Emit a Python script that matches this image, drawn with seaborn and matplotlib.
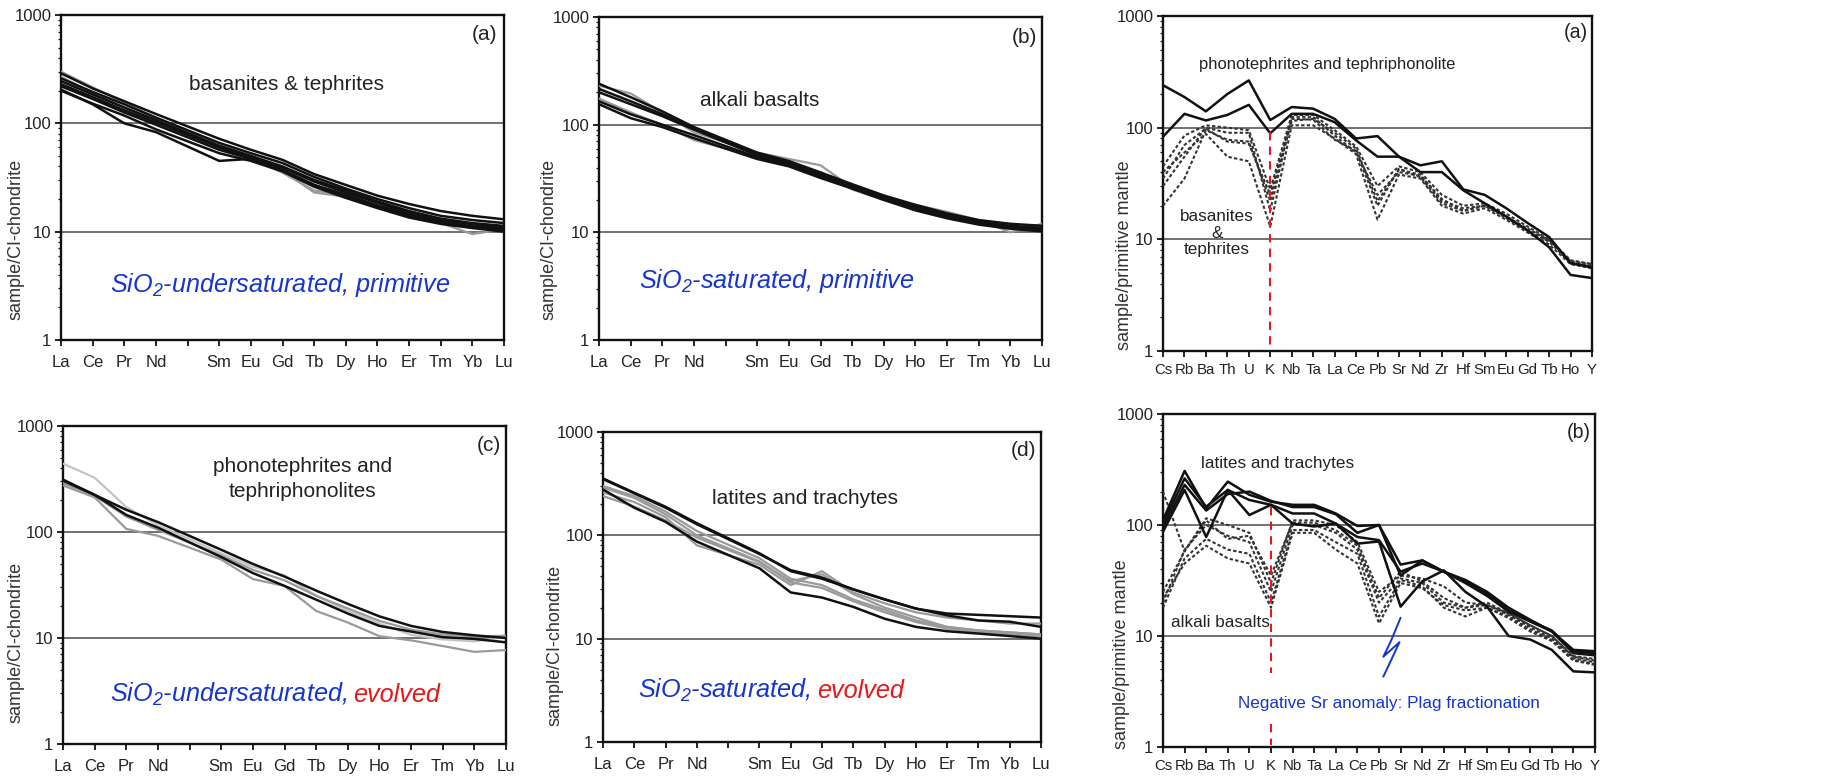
import pandas as pd
import matplotlib
matplotlib.use("Agg")
import matplotlib.pyplot as plt
from matplotlib import font_manager
from matplotlib.ticker import LogLocator, NullFormatter, FixedLocator, FixedFormatter
import seaborn as sns

# ---- element order ----
ree = ['La', 'Ce', 'Pr', 'Nd', 'Pm', 'Sm', 'Eu', 'Gd', 'Tb', 'Dy', 'Ho', 'Er', 'Tm', 'Yb', 'Lu']
ree_measured = ['La', 'Ce', 'Pr', 'Nd', 'Sm', 'Eu', 'Gd', 'Tb', 'Dy', 'Ho', 'Er', 'Tm', 'Yb', 'Lu']
ree_ticklabels = ['La', 'Ce', 'Pr', 'Nd', '', 'Sm', 'Eu', 'Gd', 'Tb', 'Dy', 'Ho', 'Er', 'Tm', 'Yb', 'Lu']
spider = ['Cs', 'Rb', 'Ba', 'Th', 'U', 'K', 'Nb', 'Ta', 'La', 'Ce', 'Pb', 'Sr', 'Nd', 'Zr',
          'Hf', 'Sm', 'Eu', 'Gd', 'Tb', 'Ho', 'Y']

# ---- REE patterns (sample / CI chondrite) ----
a_black = [
    [290, 210, 160, 122, 72, 57, 46, 34, 27, 21.5, 18, 15.5, 14, 13],
    [260, 195, 150, 113, 66, 53, 43, 32, 25, 20, 16.5, 14, 12.8, 12],
    [245, 185, 140, 107, 62, 50, 40, 30, 24, 19, 15.5, 13.2, 12, 11.3],
    [230, 175, 132, 102, 60, 48, 39, 29, 23, 18.5, 15, 12.8, 11.7, 11],
    [220, 168, 126, 97, 57, 47, 37, 27, 22, 17.5, 14.5, 12.3, 11.2, 10.6],
    [205, 150, 100, 83, 45, 47, 37, 27, 21, 17, 14, 12, 11, 10.2],
    [200, 152, 118, 88, 53, 45, 36, 26, 20.5, 16.5, 13.5, 11.8, 10.8, 10],
]
a_grey = [
    [300, 215, 155, 112, 63, 50, 37, 23, 21, 17, 14, 12, 9.5, 10.5],
    [270, 190, 140, 105, 60, 48, 35, 24, 21.5, 17.5, 14.5, 12.2, 11, 11],
]
b_black = [
    [240, 180, 133, 95, 55, 46, 36, 28, 22, 18, 15, 13, 12, 11.5],
    [215, 165, 125, 92, 54, 45, 35, 27, 21.5, 17.5, 14.5, 12.5, 11.5, 11],
    [200, 155, 120, 90, 52, 44, 34, 26.5, 21, 17, 14, 12.3, 11.3, 10.8],
    [165, 125, 100, 80, 50, 42, 33, 26, 20.5, 16.5, 14, 12, 11, 10.5],
    [155, 115, 95, 75, 48, 41, 32, 25.5, 20, 16, 13.5, 11.8, 10.8, 10.2],
]
b_grey = [
    [230, 195, 130, 85, 55, 48, 42, 26, 21, 18, 15.5, 13, 10, 12],
    [175, 130, 100, 72, 50, 44, 36, 25, 20, 17, 14.5, 12.5, 11, 11],
]
c_black = [
    [312, 224, 162, 124, 68, 50, 38, 28, 21, 16, 13, 11.4, 10.6, 10],
    [305, 224, 145, 110, 58, 41, 31, 23, 17, 13, 11.5, 10.2, 9.8, 9.1],
]
c_grey = [
    [275, 212, 107, 92, 55, 36, 31, 18, 14, 10.4, 9.5, 8.4, 7.4, 7.7],
    [290, 220, 140, 105, 60, 44, 35, 25, 19, 14.5, 12, 10.8, 10.3, 10.5],
]
c_light = [
    [442, 325, 172, 116, 63, 47, 39, 25, 18, 13.7, 10.7, 9.7, 9.3, 10.2],
]
d_black = [
    [355, 258, 189, 131, 67, 45, 38, 30, 24, 19.6, 16.8, 15, 14.6, 13],
    [350, 255, 185, 128, 66, 46, 39, 30, 24, 19.5, 17.5, 17, 16.5, 16],
    [278, 185, 135, 87, 48, 28, 25, 20.3, 15.6, 13, 11.8, 11.2, 10.6, 10],
]
d_grey = [
    [300, 240, 170, 110, 60, 38, 33, 24, 19, 15, 13, 12, 11.5, 11],
    [290, 230, 160, 100, 56, 35, 31, 23, 18, 14.5, 12.5, 11.5, 11, 10.5],
    [260, 210, 150, 80, 52, 33, 45, 28, 22, 18, 16, 15, 14, 14],
    [240, 190, 140, 95, 55, 36, 42, 27, 20, 16, 13, 12, 11.5, 11],
]

# ---- spider patterns (sample / primitive mantle) ----
pa_solid = [
    [240, 188, 140, 200, 265, 117, 153, 148, 120, 80, 84, 55, 46, 50, 28, 25, 19, 14, 10.5, 6.1, 5.6],
    [83, 133, 116, 130, 160, 89, 133, 133, 112, 77, 55, 55, 40, 40, 27.5, 21, 16, 12, 8.5, 4.8, 4.5],
]
pa_dotted = [
    [45, 85, 105, 100, 95, 28, 130, 130, 95, 68, 30, 45, 40, 25, 20, 21, 17, 13, 10, 6.5, 6],
    [20, 35, 95, 78, 75, 22, 115, 120, 90, 65, 22, 42, 38, 22, 19, 20, 16, 12.5, 9.8, 6.3, 5.8],
    [30, 55, 100, 90, 90, 18, 125, 125, 85, 60, 25, 40, 37, 23, 18, 20, 15.5, 12, 9.5, 6.2, 5.7],
    [40, 60, 88, 55, 50, 13, 105, 105, 80, 58, 15, 38, 35, 20, 17, 19, 15, 11.5, 9, 6, 5.5],
    [35, 70, 98, 75, 72, 25, 120, 118, 78, 62, 20, 43, 36, 21, 18, 20, 16, 12, 9.7, 6.4, 6],
]
pb_solid = [
    [111, 307, 141, 246, 187, 162, 152, 152, 127, 98, 100, 44, 48, 38, 31, 24, 17, 13.7, 11.2, 7.3, 7],
    [103, 263, 146, 207, 168, 152, 127, 127, 103, 78, 73, 38, 45, 38, 30, 23, 16.6, 13.5, 11, 7, 6.7],
    [87, 207, 78, 207, 123, 152, 103, 97, 103, 68, 71, 18.4, 31, 39, 25, 18.4, 10, 9.3, 7.5, 4.8, 4.7],
    [95, 230, 135, 190, 200, 165, 145, 145, 125, 85, 100, 35, 48, 38, 32, 25, 18, 14, 11, 7.5, 7.3],
]
pb_dotted = [
    [200, 58, 115, 100, 85, 30, 110, 110, 100, 70, 25, 35, 33, 28, 20, 19, 16, 12.5, 10, 6.5, 6],
    [20, 60, 100, 80, 70, 25, 100, 100, 85, 60, 20, 33, 30, 20, 18, 19, 15.5, 12, 9.5, 6.3, 5.8],
    [18, 50, 75, 60, 55, 20, 90, 90, 70, 55, 15, 32, 28, 18, 15, 18, 15, 11.5, 9.2, 6.1, 5.6],
    [22, 45, 65, 50, 45, 18, 85, 85, 60, 45, 13, 30, 27, 19, 17, 18, 14.5, 11, 9, 6, 5.5],
    [25, 58, 110, 75, 80, 35, 105, 105, 90, 65, 22, 38, 31, 22, 18, 20, 16, 12.5, 10, 6.6, 6.2],
]

# blue "lightning" mark near Sr (element index, value)
squiggle_x = [11.0, 10.55, 10.2, 10.95, 10.55, 10.2]
squiggle_y = [14.6, 9.0, 6.5, 8.8, 6.0, 4.3]

BLUE = '#1534d0'
RED = '#e81818'
TXT = '#222222'

sns.set_style('white')
plt.rcParams['font.family'] = ['Liberation Sans', 'DejaVu Sans']
plt.rcParams['mathtext.fontset'] = 'custom'
plt.rcParams['mathtext.rm'] = 'Liberation Sans:italic'
plt.rcParams['mathtext.it'] = 'Liberation Sans:italic'

names = {f.name for f in font_manager.fontManager.ttflist}
HAS_NARROW = 'Liberation Sans Narrow' in names
NARROW = ['Liberation Sans Narrow', 'Liberation Sans'] if HAS_NARROW else ['Liberation Sans']
nf = 1.0 if HAS_NARROW else 0.88
tick_narrow = 13 if HAS_NARROW else 10.8

palette = {'grey': '#9a9a9a', 'light': '#c4c4c4', 'black': '#111111', 'dotted': '#333333'}
sizes = {'grey': 1.6, 'light': 1.6, 'black': 1.8, 'dotted': 1.5}
dashes = {'grey': '', 'light': '', 'black': '', 'dotted': (1.6, 1.1)}


def to_long(groups, elements, order):
    rows = []
    for kind, samples in groups.items():
        for i, vals in enumerate(samples):
            for el, v in zip(elements, vals):
                rows.append({'x': order.index(el), 'value': v,
                             'sample': f'{kind}{i}', 'kind': kind})
    return pd.DataFrame(rows)


def draw(ax, groups, elements, order, ticklabels, narrow=False):
    df = to_long(groups, elements, order)
    kinds = [k for k in ['light', 'grey', 'dotted', 'black'] if k in groups]
    sns.lineplot(data=df, x='x', y='value', hue='kind', hue_order=kinds,
                 size='kind', sizes=sizes, style='kind', dashes=dashes,
                 units='sample', estimator=None, palette=palette,
                 legend=False, ax=ax, zorder=3)
    ax.set_yscale('log')
    ax.set_ylim(1, 1000)
    ax.set_xlim(0, len(order) - 1)
    for v in (10, 100):
        ax.axhline(v, color='#4a4a4a', lw=1.1, zorder=2)
    ax.xaxis.set_major_locator(FixedLocator(range(len(order))))
    ax.xaxis.set_major_formatter(FixedFormatter(ticklabels))
    ax.yaxis.set_major_locator(FixedLocator([1, 10, 100, 1000]))
    ax.yaxis.set_major_formatter(FixedFormatter(['1', '10', '100', '1000']))
    ax.yaxis.set_minor_locator(LogLocator(base=10, subs=range(2, 10)))
    ax.yaxis.set_minor_formatter(NullFormatter())
    ax.tick_params(axis='both', which='major', direction='out', length=4, width=1.3,
                   color='#111111', labelcolor=TXT, left=True, bottom=True)
    ax.tick_params(axis='y', which='minor', direction='out', length=2.5, width=0.9,
                   left=True, color='#111111')
    ax.tick_params(axis='x', pad=7 if not narrow else 5)
    ax.tick_params(axis='y', pad=3)
    for lab in ax.get_xticklabels():
        lab.set_family(NARROW if narrow else ['Liberation Sans'])
        lab.set_fontsize(tick_narrow if narrow else 12)
    for lab in ax.get_yticklabels():
        lab.set_fontsize(12)
    for s in ax.spines.values():
        s.set_visible(True)
        s.set_color('#111111')
        s.set_linewidth(1.7)
    ax.set_xlabel('')


def sio2_text(fig, ax, x, y, rest, red=None):
    t = ax.text(x, y, 'SiO$_2$-' + rest, color=BLUE, style='italic', fontsize=18.2,
                ha='left', va='baseline', transform=ax.transAxes, zorder=5)
    if red:
        fig.canvas.draw()
        bb = t.get_window_extent()
        x1 = ax.transAxes.inverted().transform((bb.x1 + 6, bb.y0))[0]
        ax.text(x1, y, red, color=RED, style='italic', fontsize=18.2,
                ha='left', va='baseline', transform=ax.transAxes, zorder=5)


fig = plt.figure(figsize=(18.27, 7.79), dpi=100)

ax_a = fig.add_axes([61 / 1827, 1 - 340 / 779, 443 / 1827, 325 / 779])
ax_b = fig.add_axes([599 / 1827, 1 - 340 / 779, 443 / 1827, 323 / 779])
ax_c = fig.add_axes([63 / 1827, 1 - 744 / 779, 443 / 1827, 318 / 779])
ax_d = fig.add_axes([603 / 1827, 1 - 742 / 779, 438 / 1827, 310 / 779])
ax_pa = fig.add_axes([1163 / 1827, 1 - 351 / 779, 429 / 1827, 335 / 779])
ax_pb = fig.add_axes([1163 / 1827, 1 - 747 / 779, 432 / 1827, 333 / 779])

draw(ax_a, {'grey': a_grey, 'black': a_black}, ree_measured, ree, ree_ticklabels)
draw(ax_b, {'grey': b_grey, 'black': b_black}, ree_measured, ree, ree_ticklabels)
draw(ax_c, {'light': c_light, 'grey': c_grey, 'black': c_black}, ree_measured, ree, ree_ticklabels)
draw(ax_d, {'grey': d_grey, 'black': d_black}, ree_measured, ree, ree_ticklabels)
draw(ax_pa, {'dotted': pa_dotted, 'black': pa_solid}, spider, spider, spider, narrow=True)
draw(ax_pb, {'dotted': pb_dotted, 'black': pb_solid}, spider, spider, spider, narrow=True)

# y labels
for ax, lab, xy in [
    (ax_a, 'sample/CI-chondrite', (-0.083, 0.31)),
    (ax_b, 'sample/CI-chondrite', (-0.093, 0.31)),
    (ax_c, 'sample/CI-chondrite', (-0.086, 0.32)),
    (ax_d, 'sample/CI-chondrite', (-0.091, 0.31)),
    (ax_pa, 'sample/primitive mantle', (-0.07, 0.287)),
    (ax_pb, 'sample/primitive mantle', (-0.076, 0.28)),
]:
    ax.set_ylabel(lab, fontsize=13, color='#333333')
    ax.yaxis.set_label_coords(*xy)

# panel letters
for ax, lab, x, y, narrow in [
    (ax_a, '(a)', 0.985, 0.94, False), (ax_b, '(b)', 0.988, 0.935, False),
    (ax_c, '(c)', 0.988, 0.94, False), (ax_d, '(d)', 0.99, 0.94, False),
    (ax_pa, '(a)', 0.99, 0.95, True), (ax_pb, '(b)', 0.99, 0.943, True),
]:
    ax.text(x, y, lab, transform=ax.transAxes, ha='right', va='center', color=TXT,
            fontsize=(16 * nf if narrow else 15), family=NARROW if narrow else ['Liberation Sans'])

# group names
ax_a.text(0.51, 0.785, 'basanites & tephrites', transform=ax_a.transAxes, ha='center',
          va='center', fontsize=15, color=TXT)
ax_b.text(0.363, 0.743, 'alkali basalts', transform=ax_b.transAxes, ha='center',
          va='center', fontsize=15, color=TXT)
ax_c.text(0.54, 0.833, 'phonotephrites and\ntephriphonolites', transform=ax_c.transAxes,
          ha='center', va='center', fontsize=15, color=TXT, linespacing=1.35)
ax_d.text(0.461, 0.787, 'latites and trachytes', transform=ax_d.transAxes, ha='center',
          va='center', fontsize=15, color=TXT)
ax_pa.text(0.383, 0.854, 'phonotephrites and tephriphonolite', transform=ax_pa.transAxes,
           ha='center', va='center', fontsize=13.5 * nf, family=NARROW, color=TXT)
ax_pa.text(0.126, 0.352, 'basanites\n&\ntephrites', transform=ax_pa.transAxes, ha='center',
           va='center', fontsize=14 * nf, family=NARROW, color=TXT, linespacing=1.15)
ax_pb.text(0.266, 0.85, 'latites and trachytes', transform=ax_pb.transAxes, ha='center',
           va='center', fontsize=14 * nf, family=NARROW, color=TXT)
ax_pb.text(0.132, 0.375, 'alkali basalts', transform=ax_pb.transAxes, ha='center',
           va='center', fontsize=14 * nf, family=NARROW, color=TXT)

# K anomaly markers
k = spider.index('K')
ax_pa.plot([k, k], [92, 1.04], color=RED, lw=1.5, dashes=(4, 3), zorder=4)
ax_pb.plot([k, k], [145, 4.6], color=RED, lw=1.5, dashes=(4, 3), zorder=4)
ax_pb.plot([k, k], [1.6, 1.04], color=RED, lw=1.5, dashes=(4, 3), zorder=4)

ax_pb.plot(squiggle_x, squiggle_y, color=BLUE, lw=1.4, zorder=5)
ax_pb.text(0.523, 0.132, 'Negative Sr anomaly: Plag fractionation', transform=ax_pb.transAxes,
           ha='center', va='center', fontsize=14 * nf, family=NARROW, color=BLUE)

sio2_text(fig, ax_a, 0.11, 0.148, 'undersaturated, primitive')
sio2_text(fig, ax_b, 0.09, 0.161, 'saturated, primitive')
sio2_text(fig, ax_c, 0.106, 0.132, 'undersaturated,', red='evolved')
sio2_text(fig, ax_d, 0.08, 0.142, 'saturated,', red='evolved')

fig.savefig('out.png', dpi=100, facecolor='white')
